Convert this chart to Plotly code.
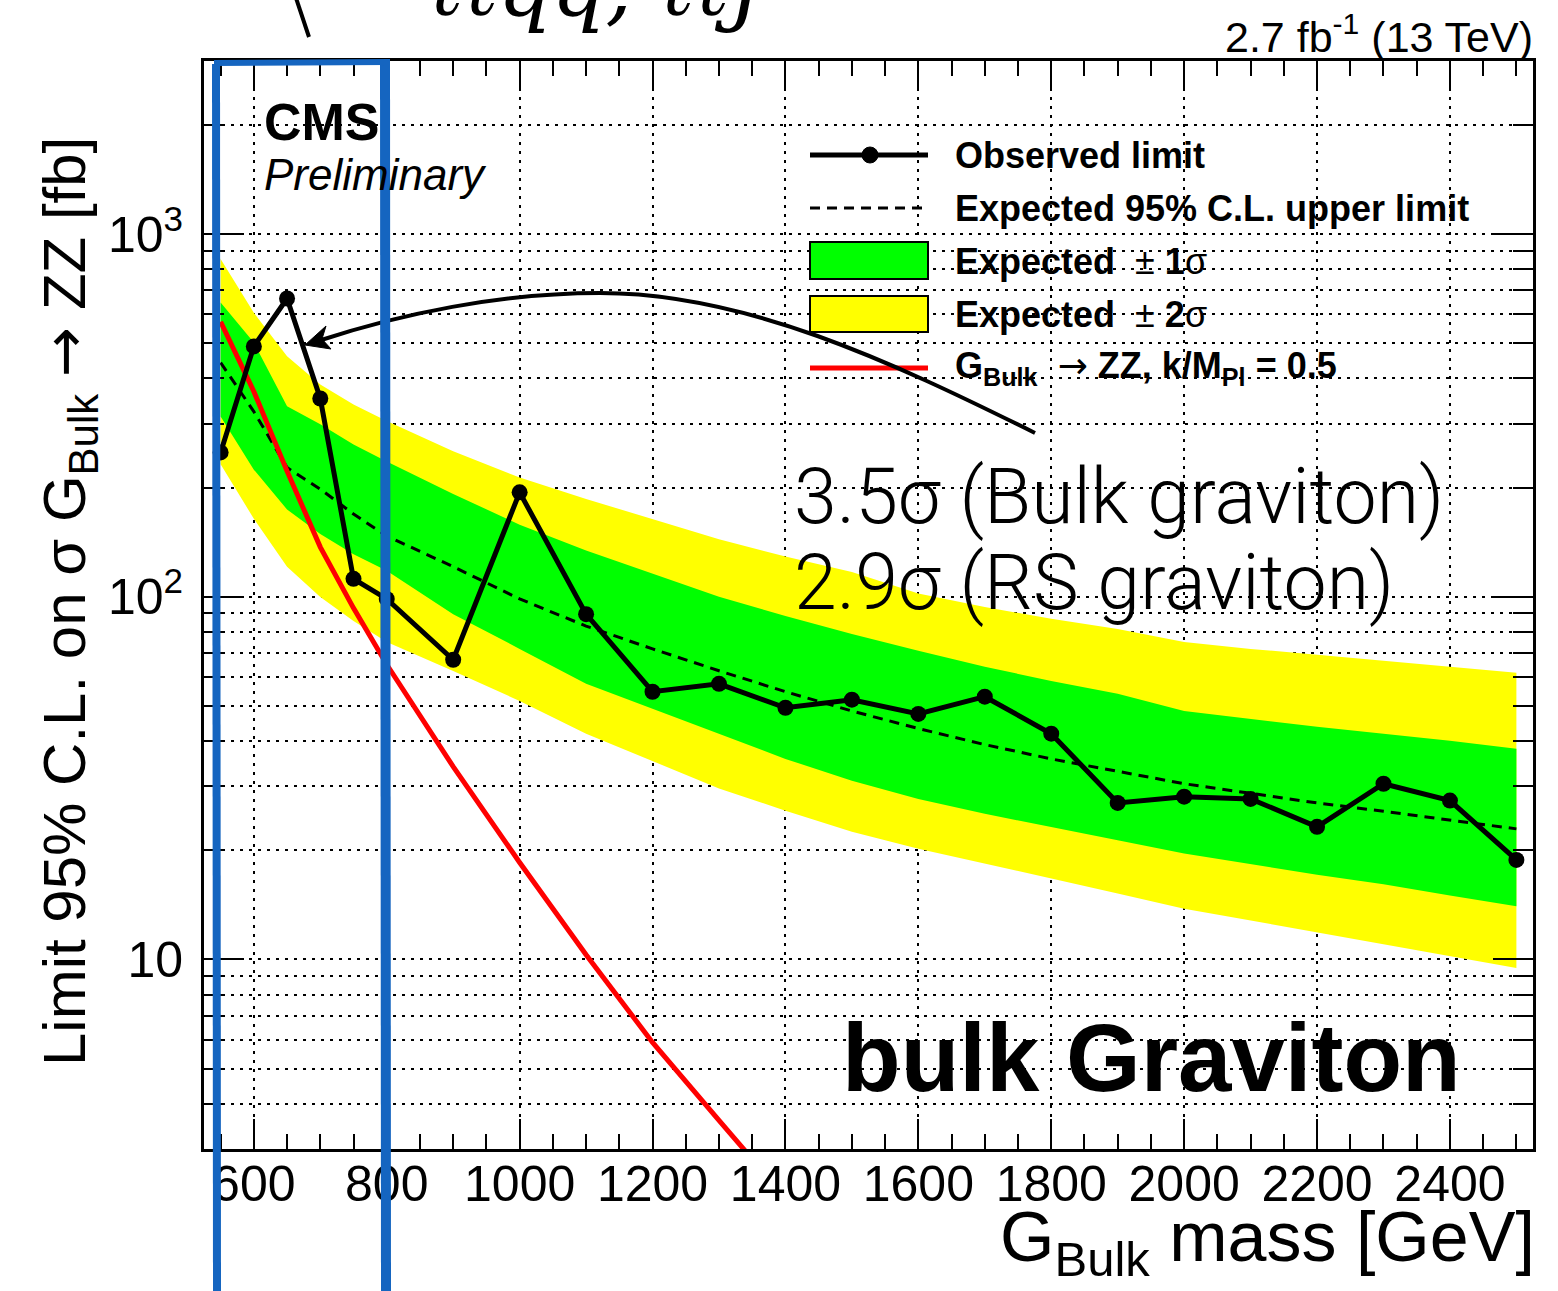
import math
import plotly.graph_objects as go

# ---- limit results (fb) vs. bulk graviton mass (GeV) ----
mass = [550, 600, 650, 700, 750, 800, 900, 1000, 1100, 1200, 1300, 1400,
        1500, 1600, 1700, 1800, 1900, 2000, 2100, 2200, 2300, 2400, 2500]
observed = [250, 490, 664, 352, 112, 98.6, 67.0, 194, 89.5, 54.7, 57.5, 49.4,
            52.0, 47.5, 53.0, 41.9, 27.0, 28.1, 27.7, 23.2, 30.5, 27.4, 18.8]
expected = [442, 324, 227, 198, 169, 147, 121, 98.6, 83.0, 71.8, 62.5, 54.7,
            48.4, 43.3, 39.1, 35.7, 33.0, 30.5, 28.7, 27.0, 25.6, 24.2, 22.9]
exp_plus2 = [854, 607, 460, 385, 339, 305, 252, 213, 186, 164, 144, 129,
             117, 102, 93.7, 86.9, 81.5, 75.0, 71.8, 69.2, 66.5, 64.1, 61.7]
exp_plus1 = [647, 502, 335, 299, 263, 236, 192, 158, 134, 116, 100, 88.5,
             78.9, 70.9, 64.1, 58.6, 54.0, 48.4, 46.0, 43.8, 41.9, 40.1, 38.1]
exp_minus1 = [314, 224, 174, 149, 131, 118, 89.5, 71.8, 57.5, 49.1, 41.9, 35.7,
              31.1, 27.7, 25.2, 23.2, 21.3, 19.6, 18.3, 17.1, 16.1, 15.0, 14.0]
exp_minus2 = [232, 164, 121, 99.8, 85.7, 75.0, 62.4, 51.6, 41.9, 35.3, 29.6, 25.7,
              22.5, 20.2, 18.4, 16.7, 15.2, 13.8, 12.8, 11.9, 11.0, 10.2, 9.46]

# theory: G_Bulk -> ZZ, k/M_Pl = 0.5
theory_mass = [550, 600, 650, 700, 750, 800, 900, 1000, 1100, 1200, 1300, 1400]
theory_xsec = [573, 368, 222, 137, 93, 65, 34, 18.5, 10.3, 5.9, 3.6, 2.2]

x_ticks = list(range(600, 2401, 200))
y_ticks = [10, 100, 1000]
y_ticktext = ["10", "10<sup>2</sup>", "10<sup>3</sup>"]
y_minor = [d * m for d in (1, 10, 100, 1000) for m in range(2, 10) if 3 <= d * m <= 3000]

FONT = "Liberation Sans, Arial, Helvetica, sans-serif"
LIGHT = "Roboto, Liberation Sans, sans-serif"
ARROW = "<span style=\"font-family:'DejaVu Sans'\">→</span>"
W, H = 1558, 1291
L, R, T, B = 204, 25, 61, 142
GRID_DASH = "3px,6px"


def px(x):
    return (x - L) / (W - L - R)


def py(y):
    return (H - B - y) / (H - T - B)


fig = go.Figure()

# +-2 sigma band
fig.add_trace(go.Scatter(x=mass + mass[::-1], y=exp_plus2 + exp_minus2[::-1],
                         fill="toself", fillcolor="#ffff00", mode="lines",
                         line=dict(width=0), hoverinfo="skip"))
# +-1 sigma band
fig.add_trace(go.Scatter(x=mass + mass[::-1], y=exp_plus1 + exp_minus1[::-1],
                         fill="toself", fillcolor="#00ff00", mode="lines",
                         line=dict(width=0), hoverinfo="skip"))
# expected limit
fig.add_trace(go.Scatter(x=mass, y=expected, mode="lines",
                         line=dict(color="black", width=3, dash="10px,7px")))
# theory
fig.add_trace(go.Scatter(x=theory_mass, y=theory_xsec, mode="lines",
                         line=dict(color="#ff0000", width=5)))
# observed limit
fig.add_trace(go.Scatter(x=mass, y=observed, mode="lines+markers",
                         line=dict(color="black", width=5),
                         marker=dict(color="black", size=16)))

axis_common = dict(showline=True, linewidth=3, linecolor="black", mirror="ticks",
                   ticks="inside", tickcolor="black", tickwidth=2,
                   showgrid=True, gridcolor="black", gridwidth=2, griddash=GRID_DASH,
                   zeroline=False, tickfont=dict(family=FONT, size=50, color="black"))

fig.update_xaxes(range=[525, 2525], tickmode="array", tickvals=x_ticks, ticklen=30,
                 ticklabelstandoff=-11,
                 minor=dict(dtick=50, tick0=0, ticks="inside", ticklen=15, tickwidth=2,
                            tickcolor="black", showgrid=False),
                 **axis_common)
fig.update_yaxes(type="log", range=[math.log10(3), math.log10(3000)], tickmode="array",
                 tickvals=y_ticks, ticktext=y_ticktext, ticklen=40, ticklabelstandoff=8,
                 minor=dict(tickmode="array", tickvals=y_minor, ticks="inside", ticklen=20,
                            tickwidth=2, tickcolor="black", showgrid=True,
                            gridcolor="black", gridwidth=2, griddash=GRID_DASH),
                 **axis_common)

shapes = []
# legend background
shapes.append(dict(type="rect", xref="paper", yref="paper", x0=px(786), x1=px(1492),
                   y0=py(402), y1=py(130), fillcolor="white", line=dict(width=0),
                   layer="between"))
# legend symbols
shapes.append(dict(type="line", xref="paper", yref="paper", x0=px(810), x1=px(928),
                   y0=py(155), y1=py(155), line=dict(color="black", width=5)))
shapes.append(dict(type="circle", xref="paper", yref="paper", x0=px(862), x1=px(878),
                   y0=py(163), y1=py(147), fillcolor="black", line=dict(color="black", width=1)))
shapes.append(dict(type="line", xref="paper", yref="paper", x0=px(810), x1=px(928),
                   y0=py(208), y1=py(208), line=dict(color="black", width=3, dash="10px,7px")))
shapes.append(dict(type="rect", xref="paper", yref="paper", x0=px(810), x1=px(928),
                   y0=py(279), y1=py(242), fillcolor="#00ff00", line=dict(color="black", width=2)))
shapes.append(dict(type="rect", xref="paper", yref="paper", x0=px(810), x1=px(928),
                   y0=py(332), y1=py(296), fillcolor="#ffff00", line=dict(color="black", width=2)))
shapes.append(dict(type="line", xref="paper", yref="paper", x0=px(810), x1=px(928),
                   y0=py(368), y1=py(368), line=dict(color="#ff0000", width=5)))

# curved arrow pointing at the excess
arrow = (f"M {px(1035)},{py(433)} "
         f"C {px(890)},{py(361)} {px(745)},{py(293)} {px(600)},{py(293)} "
         f"C {px(500)},{py(293)} {px(400)},{py(314)} {px(318)},{py(341)}")
shapes.append(dict(type="path", xref="paper", yref="paper", path=arrow,
                   line=dict(color="black", width=4)))
head = (f"M {px(305)},{py(345)} L {px(326)},{py(326)} L {px(322)},{py(339)} "
        f"L {px(331)},{py(349)} Z")
shapes.append(dict(type="path", xref="paper", yref="paper", path=head,
                   fillcolor="black", line=dict(color="black", width=1)))

# bracket stroke at top left
shapes.append(dict(type="line", xref="paper", yref="paper", x0=px(296), x1=px(309),
                   y0=py(-2), y1=py(37), line=dict(color="black", width=4)))

# blue highlight box
BLUE = "#1565c0"
shapes.append(dict(type="line", xref="paper", yref="paper", x0=px(216), x1=px(217),
                   y0=py(64), y1=py(1291), line=dict(color=BLUE, width=8)))
shapes.append(dict(type="line", xref="paper", yref="paper", x0=px(385), x1=px(386),
                   y0=py(60), y1=py(1291), line=dict(color=BLUE, width=10)))
shapes.append(dict(type="line", xref="paper", yref="paper", x0=px(214), x1=px(390),
                   y0=py(63), y1=py(62), line=dict(color=BLUE, width=6)))

fig.update_layout(shapes=shapes)


def note(text, x, y, size, xanchor="left", yanchor="middle", angle=0, family=FONT,
         weight=None):
    font = dict(family=family, size=size, color="black")
    if weight is not None:
        font["weight"] = weight
    fig.add_annotation(text=text, x=px(x), y=py(y), xref="paper", yref="paper",
                       xanchor=xanchor, yanchor=yanchor, showarrow=False, textangle=angle,
                       font=font)


SP = "&nbsp;"
# legend labels
note("<b>Observed limit</b>", 953, 155, 36)
note("<b>Expected 95% C.L. upper limit</b>", 953, 208, 36)
note(f"<b>Expected</b>{SP}{SP}±{SP}<b>1</b>σ", 953, 261, 36)
note(f"<b>Expected</b>{SP}{SP}±{SP}<b>2</b>σ", 953, 314, 36)
note(f"<b>G<sub>Bulk</sub></b>{SP}{SP}{ARROW}{SP}<b>ZZ, k/M<sub>Pl</sub> = 0.5</b>", 953, 368, 36)

# experiment labels
note("<b>CMS</b>", 262, 122, 52)
note("<i>Preliminary</i>", 262, 175, 44)
note("2.7 fb<sup>-1</sup> (13 TeV)", 1535, 34, 43, xanchor="right")

# significance and model labels
note("3.5σ (Bulk graviton)", 792, 497, 77, family=LIGHT, weight=300)
note("2.9σ (RS graviton)", 792, 583, 77, family=LIGHT, weight=300)
note("<b>bulk Graviton</b>", 840, 1057, 96)

# axis titles
note("G<sub>Bulk</sub> mass [GeV]", 1537, 1242, 70, xanchor="right")
note(f"Limit 95% C.L. on σ G<sub>Bulk</sub> {ARROW} ZZ [fb]", 68, 602, 60,
     xanchor="center", angle=-90)

# process label at the top edge
note("<i>ℓℓqq, ℓℓJ</i>", 426, -14, 84, family="DejaVu Serif, serif")

fig.update_layout(width=W, height=H, margin=dict(l=L, r=R, t=T, b=B),
                  plot_bgcolor="white", paper_bgcolor="white", showlegend=False,
                  font=dict(family=FONT, color="black"))

fig.write_html("out.html")
